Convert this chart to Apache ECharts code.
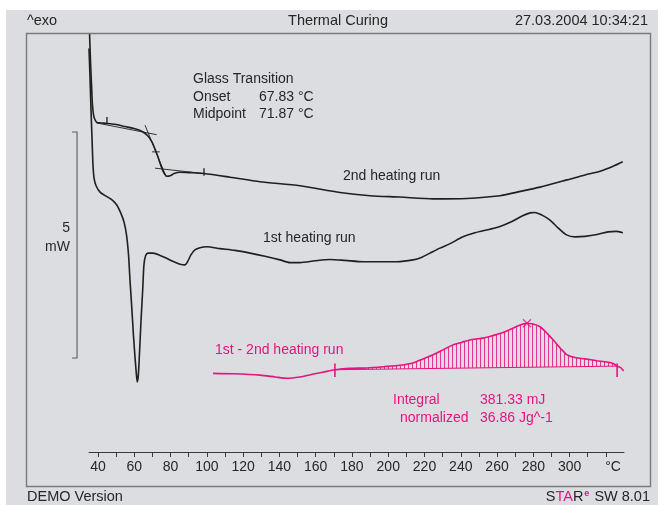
<!DOCTYPE html>
<html>
<head>
<meta charset="utf-8">
<title>Thermal Curing</title>
<script src="https://cdn.jsdelivr.net/npm/echarts@6/dist/echarts.min.js"></script>
<style>
  html, body { margin: 0; padding: 0; background: #ffffff; }
  #c { width: 664px; height: 505px; }
</style>
</head>
<body>
<div id="c"></div>
<script>
// ---- axis ticks (°C) ----
const tempTicks = [40, 50, 60, 70, 80, 90, 100, 110, 120, 130, 140, 150, 160, 170, 180, 190, 200,
                   210, 220, 230, 240, 250, 260, 270, 280, 290, 300, 310, 320];
const tempLabels = [40, 60, 80, 100, 120, 140, 160, 180, 200, 220, 240, 260, 280, 300];
const unitLabelAt = 324;

// ---- 2nd heating run (temperature °C, heat flow mW) ----
const secondRunT = [35.3, 35.8, 36.4, 36.9, 37.5, 38.3, 39.4, 41.6, 44.9, 49.3, 54.9, 60.4, 64.8, 67.5,
  69.7, 71.4, 73.0, 74.7, 76.4, 78.0, 79.7, 81.9, 85.2, 90.7, 98.4, 112.7, 129.3, 151.3, 173.4, 190.0,
  206.5, 224.7, 243.4, 261.6, 271.0, 283.7, 298.6, 308.5, 316.8, 324.0, 329.3];
const secondRunMW = [9.27, 8.67, 8.12, 7.68, 7.46, 7.35, 7.29, 7.28, 7.27, 7.25, 7.20, 7.15, 7.08, 6.99,
  6.86, 6.70, 6.53, 6.33, 6.17, 6.10, 6.11, 6.16, 6.19, 6.18, 6.16, 6.08, 5.98, 5.89, 5.74, 5.67,
  5.64, 5.60, 5.61, 5.67, 5.75, 5.86, 6.02, 6.13, 6.21, 6.32, 6.42];

// ---- 1st heating run ----
const firstRunT = [35.0, 35.6, 36.1, 36.7, 37.2, 37.8, 38.9, 41.1, 44.4, 47.7,
  50.4, 52.6, 54.3, 55.7, 56.8, 57.6, 58.5, 59.5, 60.4, 61.1,
  61.6, 62.2, 62.8, 63.7, 64.6, 65.3, 66.2, 67.5, 70.3, 74.2,
  78.0, 82.4, 85.7, 87.9, 89.6, 91.2, 93.4, 96.2, 100.1, 107.2,
  115.5, 123.8, 132.0, 140.3, 145.8, 151.3, 159.6, 167.9, 176.2, 186.1,
  195.5, 204.8, 213.7, 218.6, 223.0, 228.5, 234.1, 241.2, 247.8, 256.1,
  261.6, 268.2, 273.8, 278.2, 280.9, 284.8, 289.2, 293.6, 298.0, 303.0,
  308.5, 315.1, 321.2, 325.6, 329.4];
const firstRunMW = [8.93, 8.23, 7.57, 6.90, 6.35, 6.06, 5.89, 5.75, 5.66, 5.58,
  5.46, 5.28, 5.09, 4.80, 4.36, 3.80, 3.25, 2.59, 2.08, 1.73,
  1.55, 1.70, 2.15, 2.92, 3.58, 4.14, 4.34, 4.40, 4.40, 4.35,
  4.28, 4.20, 4.15, 4.14, 4.23, 4.36, 4.47, 4.52, 4.54, 4.50,
  4.46, 4.40, 4.33, 4.25, 4.19, 4.19, 4.23, 4.26, 4.24, 4.21,
  4.21, 4.21, 4.25, 4.31, 4.40, 4.51, 4.61, 4.76, 4.85, 4.93,
  4.99, 5.10, 5.22, 5.29, 5.30, 5.24, 5.13, 4.96, 4.81, 4.76,
  4.77, 4.81, 4.87, 4.88, 4.85];

// ---- difference curve: 1st - 2nd heating run ----
const diffT = [103.4, 114.4, 129.3, 137.6, 144.2, 151.3, 159.6, 166.8, 170.6, 178.9,
  188.3, 198.2, 206.5, 213.7, 219.2, 224.7, 230.2, 235.7, 240.7, 246.2,
  252.3, 257.2, 261.6, 266.6, 271.0, 274.3, 276.5, 279.8, 283.7, 287.5,
  291.4, 295.3, 298.6, 303.0, 308.5, 315.1, 320.6, 324.0, 326.2, 328.3, 329.8];
const diffMW = [1.74, 1.73, 1.70, 1.66, 1.63, 1.66, 1.73, 1.79, 1.82, 1.85,
  1.86, 1.89, 1.92, 1.97, 2.06, 2.15, 2.26, 2.37, 2.43, 2.49,
  2.52, 2.57, 2.62, 2.70, 2.78, 2.83, 2.85, 2.83, 2.77, 2.63,
  2.46, 2.28, 2.15, 2.09, 2.06, 2.02, 1.99, 1.96, 1.90, 1.86, 1.79];

// integration limits and peak of the curing exotherm
const integStart = 170.6, integEnd = 326.2;
const integStartMW = 1.82, integEndMW = 1.90;
const peakT = 276.5, peakMW = 2.85;
const limitBarMW = [1.66, 1.96];

// ---- glass transition construction on the 2nd heating run ----
const preBaseT = [39.2, 72.3],  preBaseMW = [7.28, 7.02];
const inflT = [65.9, 77.5],     inflMW = [7.23, 6.09];
const postBaseT = [71.4, 98.4], postBaseMW = [6.28, 6.16];
const midTickT = [69.7, 74.1],  midTickMW = [6.64, 6.64];
const evalLimitT = [44.9, 98.4];
const evalLimitMW = [[7.25, 7.41], [6.11, 6.28]];

// ---- 5 mW scale bar ----
const scaleBarT = 28.4, scaleBarLowMW = 2.08, scaleBarSpanMW = 5;

const INK = '#1f1f1f';
const PINK = '#e3157f';
const TXT = '#262626';
const FONT = '"Liberation Sans", Arial, sans-serif';

const zip = (a, b) => a.map((t, i) => [t, b[i]]);

function hatchPattern() {
  const c = document.createElement('canvas');
  c.width = 4; c.height = 4;
  const g = c.getContext('2d');
  g.fillStyle = 'rgba(227,21,127,0.85)';
  g.fillRect(0, 0, 1, 4);
  return c;
}
const hatch = hatchPattern();

function line(data, color, width, extra) {
  return Object.assign({
    type: 'line', data: data, symbol: 'none', showSymbol: false, clip: false,
    silent: true, animation: false, z: 5,
    lineStyle: { color: color, width: width }
  }, extra || {});
}

const series = [];
series.push(line(zip(secondRunT, secondRunMW), INK, 1.6, { smooth: 0.25 }));
series.push(line(zip(firstRunT, firstRunMW), INK, 1.6, { smooth: 0.25 }));
series.push(line(zip(diffT, diffMW), PINK, 1.6, { smooth: 0.25 }));

// hatched integral area between the curve and the straight baseline
series.push({
  type: 'custom', coordinateSystem: 'cartesian2d', silent: true, animation: false, z: 3,
  data: [[integStart, integStartMW]],
  renderItem: function (params, api) {
    const pts = zip(diffT, diffMW)
      .filter(p => p[0] >= integStart && p[0] <= integEnd)
      .map(p => api.coord(p));
    return { type: 'polygon', shape: { points: pts }, style: { fill: { image: hatch, repeat: 'repeat' }, stroke: null } };
  }
});
series.push(line([[integStart, integStartMW], [integEnd, integEndMW]], PINK, 1));
series.push(line([[integStart, limitBarMW[0]], [integStart, limitBarMW[1]]], PINK, 1.6));
series.push(line([[integEnd, limitBarMW[0]], [integEnd, limitBarMW[1]]], PINK, 1.6));
series.push({
  type: 'scatter', data: [[peakT, peakMW]], silent: true, animation: false, z: 6,
  symbol: 'path://M0 0L10 10M10 0L0 10', symbolSize: 8,
  itemStyle: { color: 'none', borderColor: PINK, borderWidth: 1.3 }
});

// glass transition tangents and marks
series.push(line(zip(preBaseT, preBaseMW), INK, 0.9));
series.push(line(zip(inflT, inflMW), INK, 0.9));
series.push(line(zip(postBaseT, postBaseMW), INK, 0.9));
series.push(line(zip(midTickT, midTickMW), INK, 0.9));
evalLimitT.forEach((t, i) => {
  series.push(line([[t, evalLimitMW[i][0]], [t, evalLimitMW[i][1]]], INK, 1.3));
});

function txt(x, y, text, opts) {
  opts = opts || {};
  return {
    type: 'text', x: x, y: y, z: 50, silent: true,
    style: Object.assign({
      text: text, fill: TXT, font: '14px ' + FONT,
      textAlign: 'left', textVerticalAlign: 'middle'
    }, opts)
  };
}

const graphics = [
  { type: 'rect', z: -100, silent: true, shape: { x: 6, y: 10, width: 652, height: 495 }, style: { fill: '#dcdde0' } },
  { type: 'rect', z: 40, silent: true, shape: { x: 26.5, y: 33.5, width: 624, height: 453 },
    style: { fill: null, stroke: '#7a7a7a', lineWidth: 1.4 } },
  txt(27, 21, '^exo', { font: '14.5px ' + FONT }),
  txt(338, 21, 'Thermal Curing', { font: '14.5px ' + FONT, textAlign: 'center' }),
  txt(648, 21, '27.03.2004 10:34:21', { font: '14.5px ' + FONT, textAlign: 'right' }),
  txt(27, 497, 'DEMO Version', { font: '14.5px ' + FONT }),
  {
    type: 'text', x: 650, y: 497, z: 50, silent: true,
    style: {
      text: '{k|S}{m|TA}{k|R}{s|e}{k| SW 8.01}', textAlign: 'right', textVerticalAlign: 'middle',
      font: '14.5px ' + FONT, fill: TXT,
      rich: {
        k: { fill: TXT, color: TXT, font: '14.5px ' + FONT },
        m: { fill: PINK, color: PINK, font: '14.5px ' + FONT },
        s: { fill: PINK, color: PINK, font: 'bold 9px ' + FONT, padding: [0, 1, 7, 1] }
      }
    }
  },
  txt(193, 79, 'Glass Transition'),
  txt(193, 97, 'Onset'),
  txt(259, 97, '67.83 °C'),
  txt(193, 114, 'Midpoint'),
  txt(259, 114, '71.87 °C'),
  txt(343, 176, '2nd heating run'),
  txt(263, 238, '1st heating run'),
  txt(215, 350, '1st - 2nd heating run', { fill: PINK }),
  txt(393, 400, 'Integral', { fill: PINK }),
  txt(480, 400, '381.33 mJ', { fill: PINK }),
  txt(400, 418, 'normalized', { fill: PINK }),
  txt(480, 418, '36.86 Jg^-1', { fill: PINK }),
  txt(70, 228, '5', { textAlign: 'right' }),
  txt(70, 247, 'mW', { textAlign: 'right' })
];

const chart = echarts.init(document.getElementById('c'), null, { renderer: 'canvas' });
chart.setOption({
  animation: false,
  backgroundColor: '#ffffff',
  grid: { left: 89, right: 40, top: 0, bottom: 53 },
  xAxis: {
    type: 'value', min: 35, max: 330,
    splitLine: { show: false },
    axisLine: { lineStyle: { color: '#3a3a3a', width: 1 } },
    axisTick: { customValues: tempTicks, length: 5, lineStyle: { color: '#3a3a3a', width: 1 } },
    axisLabel: {
      customValues: tempLabels.concat([unitLabelAt]),
      formatter: v => (v === unitLabelAt ? '°C' : String(v)),
      color: TXT, fontSize: 14, fontFamily: FONT, margin: 8
    }
  },
  yAxis: { type: 'value', min: 0, max: 10, show: false },
  series: series,
  graphic: graphics
});

// 5 mW scale bracket, placed through the chart's own coordinate conversion
const capT = scaleBarT - 2.8;
const barPts = [[capT, scaleBarLowMW + scaleBarSpanMW], [scaleBarT, scaleBarLowMW + scaleBarSpanMW],
                [scaleBarT, scaleBarLowMW], [capT, scaleBarLowMW]]
  .map(p => chart.convertToPixel({ gridIndex: 0 }, p));
chart.setOption({
  graphic: graphics.concat([{
    type: 'polyline', z: 45, silent: true,
    shape: { points: barPts },
    style: { stroke: '#5a5a5a', lineWidth: 1.1, fill: null }
  }])
});
</script>
</body>
</html>
